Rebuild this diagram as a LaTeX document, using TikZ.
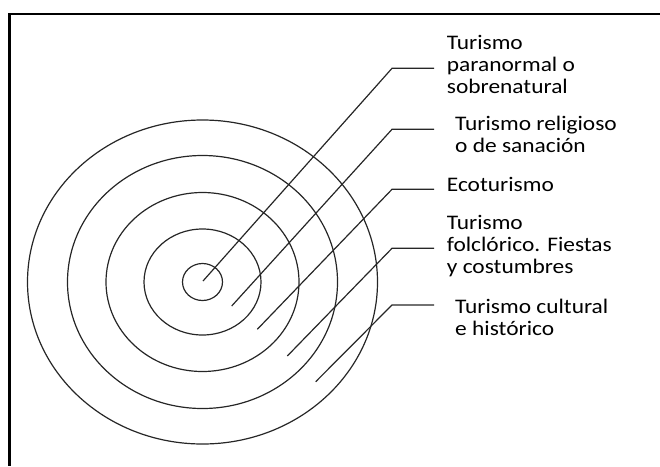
\documentclass[tikz,border=0pt]{standalone}
\usepackage{fontspec}
\setmainfont{Carlito}[FakeStretch=1.13]
\usepackage{tikz}

\begin{document}
\begin{tikzpicture}[x=1pt, y=-1pt,
    ring/.style={draw=black!85, line width=1.2pt},
    lead/.style={draw=black!85, line width=1.2pt},
    lbl/.style={anchor=west, align=left, inner sep=0pt, text=black,
      font=\fontsize{20.7}{22}\selectfont,
      execute at begin node=\strut, execute at end node=\strut}]
          \useasboundingbox (0,0) rectangle (660,466);
          \draw[line width=2.5pt] (660,14) -- (9.5,14) -- (9.5,466);

          \coordinate (c) at (202.5,282);
          \draw[ring] (c) ellipse [x radius=20pt, y radius=18.5pt];
          \draw[ring] (c) ellipse [x radius=58.5pt, y radius=53pt];
          \draw[ring] (c) ellipse [x radius=96.5pt, y radius=89.5pt];
          \draw[ring] (c) ellipse [x radius=135pt, y radius=126.5pt];
          \draw[ring] (c) ellipse [x radius=175pt, y radius=162pt];

          \node[lbl] (paranormal) at (446.7,67.5) {Turismo\\paranormal o\\sobrenatural};
          \node[lbl] (religioso) at (455,137.5) {Turismo religioso\\o de sanación};
          \node[lbl] (eco) at (446.7,187) {Ecoturismo};
          \node[lbl] (folclorico) at (446.7,247.7) {Turismo\\folclórico. Fiestas\\y costumbres};
          \node[lbl] (cultural) at (455,320.8) {Turismo cultural\\e histórico};

          \coordinate (s1) at (203,281);
          \coordinate (s2) at (231.7,306);
          \coordinate (s3) at (257.3,329.3);
          \coordinate (s4) at (287.3,356);
          \coordinate (s5) at (315.7,381.7);
          \coordinate (b1) at (392,68.3);
          \coordinate (b2) at (392,129.3);
          \coordinate (b3) at (392,189.3);
          \coordinate (b4) at (392,248.3);
          \coordinate (b5) at (392,305);
          \coordinate (e1) at (434,68.3);
          \coordinate (e2) at (434,129.3);
          \coordinate (e3) at (434,189.3);
          \coordinate (e4) at (434,248.3);
          \coordinate (e5) at (434,305);

          \draw[lead] (s1) -- (b1) -- (e1);
          \draw[lead] (s2) -- (b2) -- (e2);
          \draw[lead] (s3) -- (b3) -- (e3);
          \draw[lead] (s4) -- (b4) -- (e4);
          \draw[lead] (s5) -- (b5) -- (e5);
        \end{tikzpicture}
\end{document}
